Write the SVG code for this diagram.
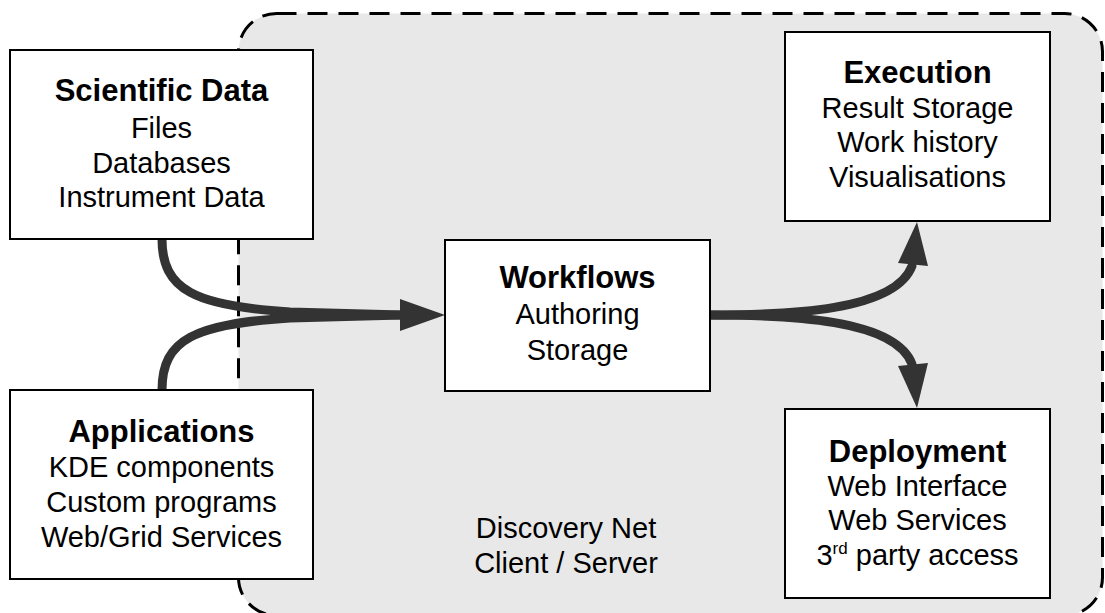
<svg xmlns="http://www.w3.org/2000/svg" width="1105" height="613" viewBox="0 0 1105 613">
<defs>
<style>
.bg{fill:#fff}
.region{fill:#e8e8e8;stroke:#000;stroke-width:3;stroke-dasharray:20 11}
.box{fill:#fff;stroke:#000;stroke-width:2}
text{font-family:"Liberation Sans",Arial,sans-serif;fill:#000;text-anchor:middle}
.t{font-size:31px;font-weight:bold}
.l{font-size:29px}
.sup{font-size:17px}
.c{fill:none;stroke:#333;stroke-width:9;stroke-linecap:round}
.ah{fill:#333}
</style>
</defs>
<rect class="bg" x="0" y="0" width="1105" height="613"/>
<g id="region">
<rect class="region" x="238.5" y="13.5" width="864" height="602" rx="38" ry="38"/>
<text class="l" x="566" y="538">Discovery Net</text>
<text class="l" x="566" y="573">Client / Server</text>
</g>
<g id="connectors">
<path class="c" d="M162,239 C162,290 195,306 290,312 L402,315"/>
<path class="c" d="M162,390 C162,339 195,324 290,318 L402,315"/>
<polygon class="ah" points="400,299 445,315 400,331"/>
<path class="c" d="M708,315 C790,315 895,311 912,266"/>
<path class="c" d="M708,315 C790,315 895,319 912,364"/>
<polygon class="ah" points="898,263 917,222 928,266"/>
<polygon class="ah" points="898,366 917,408 928,363"/>
</g>
<g id="scientific-data">
<rect class="box" x="10" y="50" width="303" height="189"/>
<text class="t" x="161.5" y="101">Scientific Data</text>
<text class="l" x="161.5" y="138">Files</text>
<text class="l" x="161.5" y="173">Databases</text>
<text class="l" x="161.5" y="207">Instrument Data</text>
</g>
<g id="applications">
<rect class="box" x="10" y="390" width="303" height="189"/>
<text class="t" x="161.5" y="442">Applications</text>
<text class="l" x="161.5" y="477">KDE components</text>
<text class="l" x="161.5" y="512">Custom programs</text>
<text class="l" x="161.5" y="547">Web/Grid Services</text>
</g>
<g id="workflows">
<rect class="box" x="445" y="240" width="265" height="151"/>
<text class="t" x="577.5" y="288">Workflows</text>
<text class="l" x="577.5" y="324">Authoring</text>
<text class="l" x="577.5" y="360">Storage</text>
</g>
<g id="execution">
<rect class="box" x="785" y="32" width="265" height="189"/>
<text class="t" x="917.5" y="83">Execution</text>
<text class="l" x="917.5" y="118">Result Storage</text>
<text class="l" x="917.5" y="152">Work history</text>
<text class="l" x="917.5" y="187">Visualisations</text>
</g>
<g id="deployment">
<rect class="box" x="785" y="409" width="265" height="189"/>
<text class="t" x="917.5" y="462">Deployment</text>
<text class="l" x="917.5" y="496">Web Interface</text>
<text class="l" x="917.5" y="530">Web Services</text>
<text class="l" x="917.5" y="565">3<tspan class="sup" dy="-11">rd</tspan><tspan dy="11"> party access</tspan></text>
</g>
</svg>
